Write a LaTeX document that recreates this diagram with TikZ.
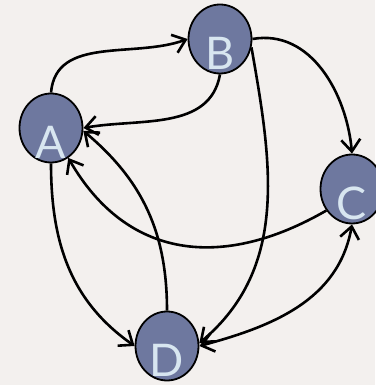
\documentclass[tikz,border=0pt]{standalone}
\usepackage{fontspec}
\setsansfont{Lato}
\usetikzlibrary{shapes.geometric,arrows.meta}
\definecolor{vfill}{HTML}{6E789F}
\definecolor{vtext}{HTML}{D8E6F0}
\definecolor{bgpaper}{HTML}{F3F0EE}
\tikzset{vtx/.style={ draw, fill = vfill, ellipse, line width=1.8pt,
  minimum width=63pt, minimum height=69pt, inner sep=0pt,
  label={[text=vtext,font=\sffamily\fontsize{45}{45}\selectfont,yshift=-14pt]center:#1}}}

\begin{document}
\begin{tikzpicture}[x=1pt,y=1pt, >={Straight Barb[length=12pt,width=19pt]}, arc/.style={->, line width=2.6pt}]
\fill[bgpaper] (0,0) rectangle (375,385);
\useasboundingbox (0,0) rectangle (375,385);
\node[vtx=A] (A) at (51,257) {};
\node[vtx=B] (B) at (220,346) {};
\node[vtx=C] (C) at (352,196) {};
\node[vtx=D] (D) at (167,39) {};
\draw[arc] (A.north) to[out=85,in=200] (B.west);
\draw[arc] (B.south) to[out=-100,in=10] (A.east);
\draw[arc] (B.east) to[out=10,in=95] (C.north);
\draw[arc] (B.-15) to[out=-80,in=40] (D.5);
\draw[arc,<->] (C.south) to[out=-100,in=15] (D.east);
\draw[arc] (C.-140) to[out=-150,in=-60,looseness=1.15] (A.-60);
\draw[arc] (D.north) to[out=90,in=-40] (A.-5);
\draw[arc] (A.south) to[out=-90,in=145] (D.west);
\end{tikzpicture}
\end{document}
